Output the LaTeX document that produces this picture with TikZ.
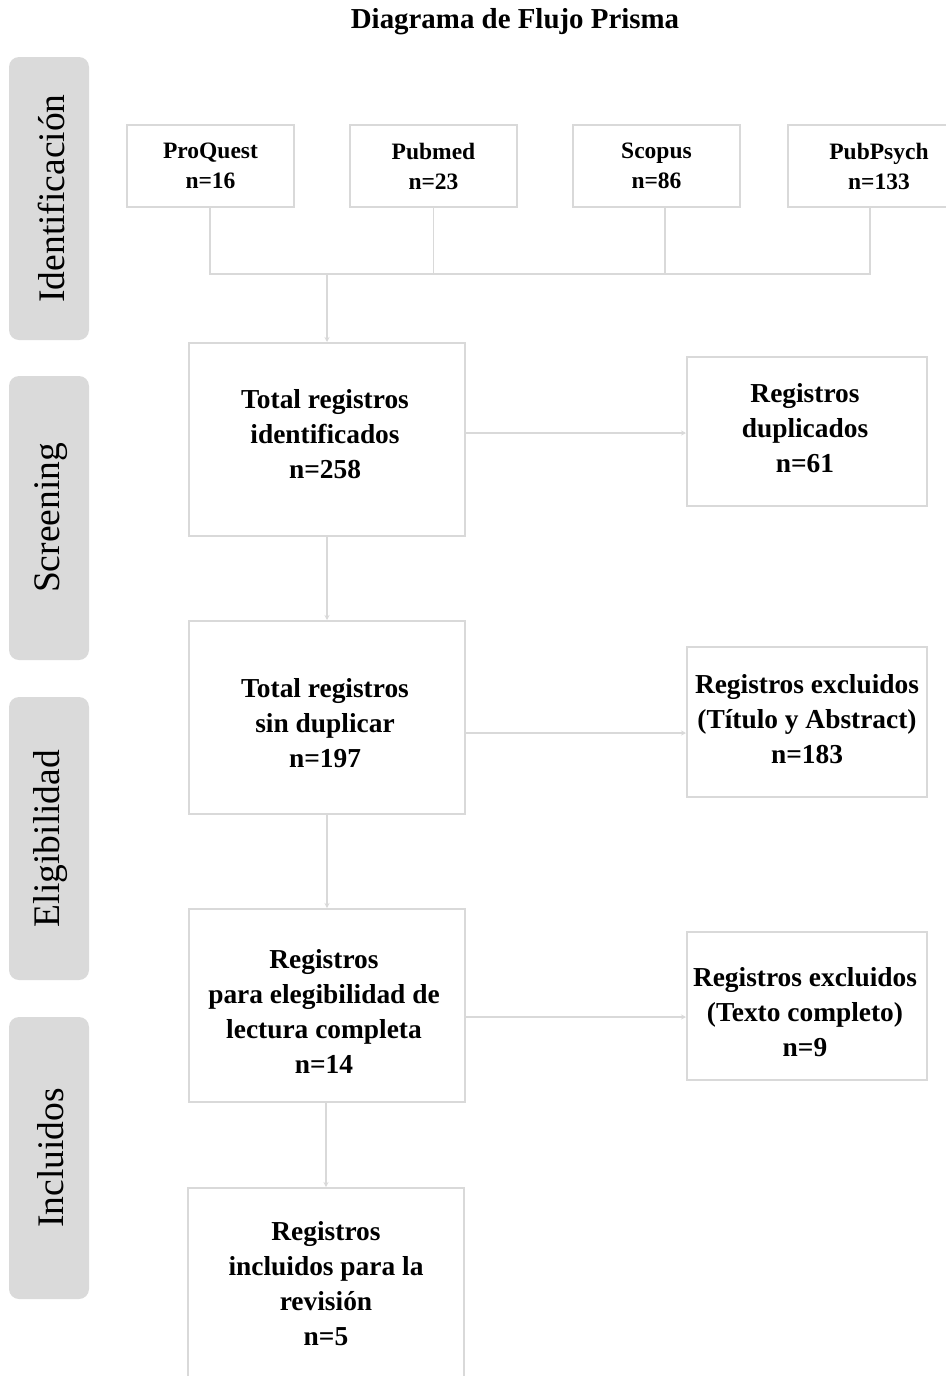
\documentclass[tikz,border=0pt]{standalone}
\usepackage{fontspec}
\setmainfont{Liberation Serif}
\usetikzlibrary{arrows.meta,calc}
\definecolor{boxgray}{HTML}{D9D9D9}
\definecolor{bandgray}{HTML}{DADADA}
\begin{document}
\begin{tikzpicture}[x=1pt,y=-1pt,
  box/.style={draw=boxgray, line width=2pt, fill=white, inner sep=0pt},
  txt/.style={align=center, inner sep=0pt, font=\bfseries\fontsize{27.4}{35}\selectfont},
  src/.style={draw=boxgray, line width=2pt, fill=white, align=center, inner sep=0pt,
    minimum width=167pt, minimum height=82pt, font=\bfseries\fontsize{23.5}{30}\selectfont},
  band/.style={fill=bandgray, rounded corners=10pt},
  bandlabel/.style={rotate=90, font=\fontsize{37.5}{40}\selectfont},
  conn/.style={draw=boxgray, line width=1.5pt},
  arr/.style={conn, -{Stealth[length=5pt,width=5pt]}}
]
\useasboundingbox (0,0) rectangle (945,1376);

% title
\node[font=\bfseries\fontsize{28.9}{32}\selectfont] (title) at (515,22) {Diagrama de Flujo Prisma};

% side bands
\fill[band] (9,57) rectangle (89,340);
\fill[band] (9,376) rectangle (89,660);
\fill[band] (9,697) rectangle (89,980);
\fill[band] (9,1017) rectangle (89,1299);
\node[bandlabel] (l1) at (51,198.5) {Identificación};
\node[bandlabel] (l2) at (51,518) {Screening};
\node[bandlabel] (l3) at (51,838.5) {Eligibilidad};
\node[bandlabel] (l4) at (51,1158) {Incluidos};

% source boxes
\node[src] (pq) at (210.5,166) {ProQuest\\n=16};
\node[src] (pm) at (433.5,166) {Pubmed\\n=23};
\node[src] (sc) at (656.5,166) {Scopus\\n=86};
\node[src, minimum width=182pt] (pp) at (879,166) {PubPsych\\n=133};

% main boxes
\node[box, minimum width=276pt, minimum height=193pt] (b1) at (327,439.5) {};
\node[box, minimum width=240pt, minimum height=149pt] (d1) at (807,431.5) {};
\node[box, minimum width=276pt, minimum height=193pt] (b2) at (327,717.5) {};
\node[box, minimum width=240pt, minimum height=150pt] (d2) at (807,722) {};
\node[box, minimum width=276pt, minimum height=193pt] (b3) at (327,1005.5) {};
\node[box, minimum width=240pt, minimum height=148pt] (d3) at (807,1006) {};
\node[box, minimum width=276pt, minimum height=193pt] (b4) at (326,1284.5) {};

% texts
\node[txt] (t1) at ($(b1.center)+(-2,-5.5)$) {Total registros\\identificados\\n=258};
\node[txt] (u1) at ($(d1.center)+(-2,-3.5)$) {Registros\\duplicados\\n=61};
\node[txt] (t2) at ($(b2.center)+(-2,6)$) {Total registros\\sin duplicar\\n=197};
\node[txt] (u2) at ($(d2.center)+(0,-3)$) {Registros excluidos\\(Título y Abstract)\\n=183};
\node[txt] (t3) at ($(b3.center)+(-3,5.5)$) {Registros\\para elegibilidad de\\lectura completa\\n=14};
\node[txt] (u3) at ($(d3.center)+(-2,6)$) {Registros excluidos\\(Texto completo)\\n=9};
\node[txt] (t4) at ($(b4.center)+(0,-1)$) {Registros\\incluidos para la\\revisión\\n=5};

% merge connectors
\coordinate (j1) at (210,274);
\coordinate (j4) at (870,274);
\coordinate (jm) at (b1.north |- j1);
\draw[conn] (pq.south -| j1) -- (j1) -- (j4) -- (j4 |- pp.south);
\draw[conn] (pm.south) -- (pm.south |- j1);
\draw[conn] (sc.south -| 665,0) -- (665,274);
\draw[arr] (jm) -- (b1.north);

% vertical arrows
\draw[arr] (b1.south) -- (b2.north);
\draw[arr] (b2.south) -- (b3.north);
\draw[arr] (b3.south -| b4.north) -- (b4.north);

% horizontal arrows
\draw[arr] (b1.east |- 0,433) -- (d1.west |- 0,433);
\draw[arr] (b2.east |- 0,733) -- (d2.west |- 0,733);
\draw[arr] (b3.east |- 0,1017) -- (d3.west |- 0,1017);
\end{tikzpicture}
\end{document}
